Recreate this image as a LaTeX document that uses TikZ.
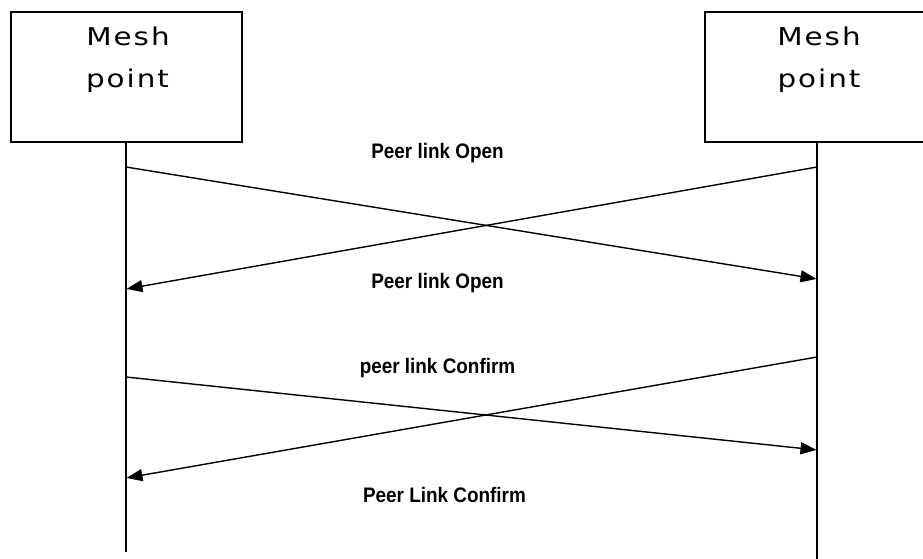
\documentclass[tikz,border=0pt]{standalone}
\usepackage{fontspec}
\newfontfamily\meshfont{DejaVu Sans}[FakeStretch=1.2,LetterSpace=8]
\newfontfamily\lblfont{Liberation Sans}[FakeStretch=0.9]
\usetikzlibrary{arrows.meta}
\begin{document}
\begin{tikzpicture}[x=1pt,y=-1pt,
  mpbox/.style={draw, line width=1.6pt, minimum width=#1, minimum height=130pt, inner sep=0pt, anchor=north west},
  mptext/.style={font=\meshfont\fontsize{24.5}{42}\selectfont, anchor=base, inner sep=0pt},
  life/.style={line width=1.6pt},
  msg/.style={line width=1.4pt, -{Triangle[length=16pt,width=12pt]}, shorten >=0.5pt},
  msglbl/.style={font=\lblfont\bfseries\fontsize{21}{24}\selectfont, anchor=base, inner sep=0pt}]
\useasboundingbox (0,0) rectangle (923,558);
\fill[white] (0,0) rectangle (923,558);
% boxes
\node[mpbox=231pt] (lbox) at (10,11) {};
\node[mpbox=230pt] (rbox) at (704,11) {};
\node[mptext] (ltxt) at (128,45) {Mesh};
\node[mptext] (ltxt2) at (127.5,87) {point};
\node[mptext] (rtxt) at (819,45) {Mesh};
\node[mptext] (rtxt2) at (819,87) {point};
% lifelines
\coordinate (lbot) at (126,552);
\coordinate (rbot) at (817,560);
\draw[life] (lbot |- lbox.south) -- (lbot);
\draw[life] (rbot |- rbox.south) -- (rbot);
% message points
\coordinate (a1s) at (126,167);
\coordinate (a1e) at (817,279);
\coordinate (a2s) at (817,167);
\coordinate (a2e) at (126,289);
\coordinate (a3s) at (126,377);
\coordinate (a3e) at (817,450);
\coordinate (a4s) at (817,357);
\coordinate (a4e) at (126,478);
\draw[msg] (a1s) -- (a1e);
\draw[msg] (a2s) -- (a2e);
\draw[msg] (a3s) -- (a3e);
\draw[msg] (a4s) -- (a4e);
% labels
\node[msglbl] (l1) at (437.5,158.3) {Peer link Open};
\node[msglbl] (l2) at (437.5,288.3) {Peer link Open};
\node[msglbl] (l3) at (437.5,373) {peer link Confirm};
\node[msglbl] (l4) at (444.5,502) {Peer Link Confirm};
\end{tikzpicture}
\end{document}
